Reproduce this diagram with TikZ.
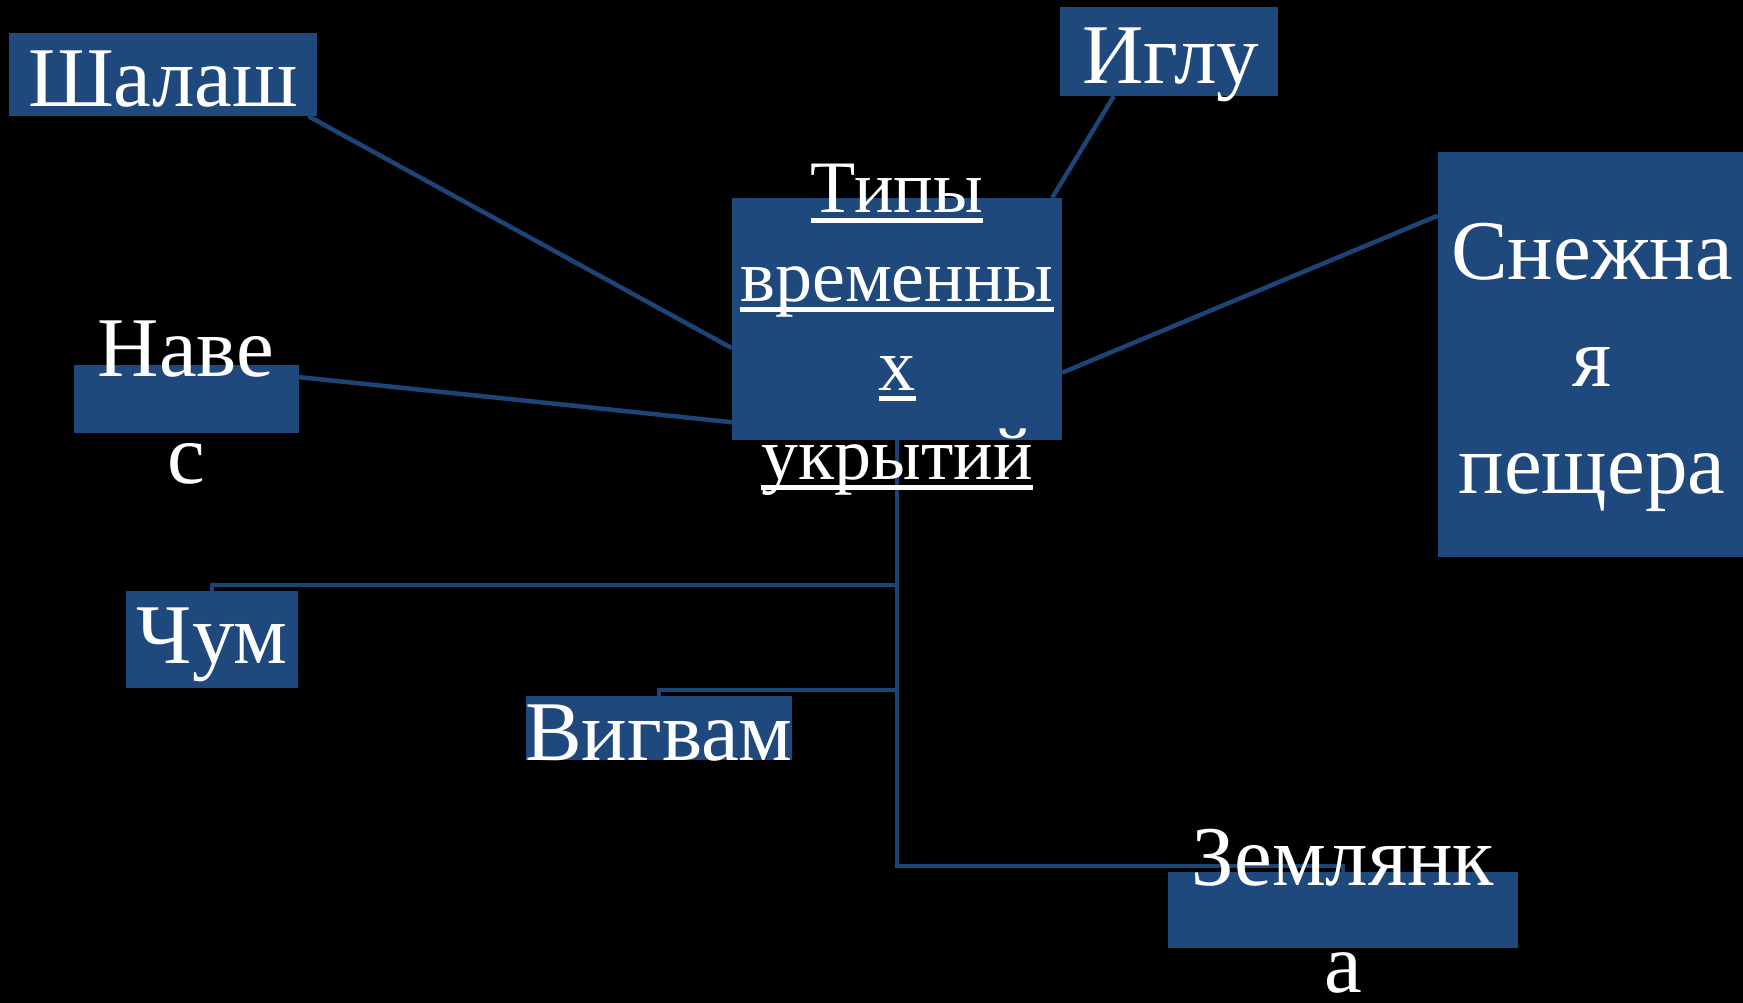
\documentclass[tikz,border=0pt]{standalone}
\usepackage{fontspec}
\setmainfont{Liberation Serif}
\definecolor{boxblue}{HTML}{1F497D}
\definecolor{lineblue}{HTML}{1D4476}
\newcommand{\ulword}[1]{\setbox0\hbox{#1}\rlap{\rule[-10pt]{\wd0}{5pt}}\box0}

\begin{document}
\begin{tikzpicture}
    [
      x=1pt,y=-1pt,
      shelter/.style={rectangle,fill=boxblue,inner sep=0pt},
      boxtext/.style={text=white,align=center,inner sep=0pt,font=\fontsize{85}{107}\selectfont},
      headtext/.style={text=white,align=center,inner sep=0pt,font=\fontsize{74}{89}\selectfont},
      link/.style={draw=lineblue,line width=4.5pt},
    ]

    \fill [black] (0,0) rectangle (1743,1003);
    \useasboundingbox (0,0) rectangle (1743,1003);

    \node (tipy) [shelter,minimum width=330,minimum height=242] at (897,319) {};

    \node (salash) [shelter,minimum width=308,minimum height=83] at (163,74.5) {};
    \node (iglu) [shelter,minimum width=218,minimum height=89] at (1169,51.5) {};
    \node (cave) [shelter,minimum width=308,minimum height=405] at (1592,354.5) {};
    \node (naves) [shelter,minimum width=225,minimum height=68] at (186.5,399) {};
    \node (chum) [shelter,minimum width=172,minimum height=97] at (212,639.5) {};
    \node (vigvam) [shelter,minimum width=266,minimum height=64] at (659,728) {};
    \node (zemlyanka) [shelter,minimum width=350,minimum height=76] at (1343,910) {};

    \path
    (salash.-16.1) edge [link] (tipy.190.7)
    (naves.11.6) edge [link] (tipy.212.1)
    (iglu.219.5) edge [link] (tipy.38.3)
    (cave.138.4) edge [link] (tipy.342.8)
    ;

    \draw [link] (tipy.south) |- ([yshift=6pt]chum.north) -- (chum.north);
    \draw [link] (tipy.south) |- ([yshift=6pt]vigvam.north) -- (vigvam.north);
    \draw [link] (tipy.south) |- ([yshift=6pt]zemlyanka.north) -- (zemlyanka.north);

    \node (tipy-text) [headtext] at (897,330) {\ulword{Типы}\\\ulword{временны}\\\ulword{х}\\\ulword{укрытий}};
    \node (salash-text) [boxtext,anchor=base] at (163,107) {Шалаш};
    \node (iglu-text) [boxtext,anchor=base] at (1171,84) {Иглу};
    \node (cave-text) [boxtext] at (1592,367) {Снежна\\я\\пещера};
    \node (naves-text) [boxtext] at (186,403) {Наве\\с};
    \node (chum-text) [boxtext,anchor=base] at (212,663) {Чум};
    \node (vigvam-text) [boxtext,anchor=base] at (659,760) {Вигвам};
    \node (zemlyanka-text) [boxtext] at (1343,911) {Землянк\\а};

  \end{tikzpicture}
\end{document}
